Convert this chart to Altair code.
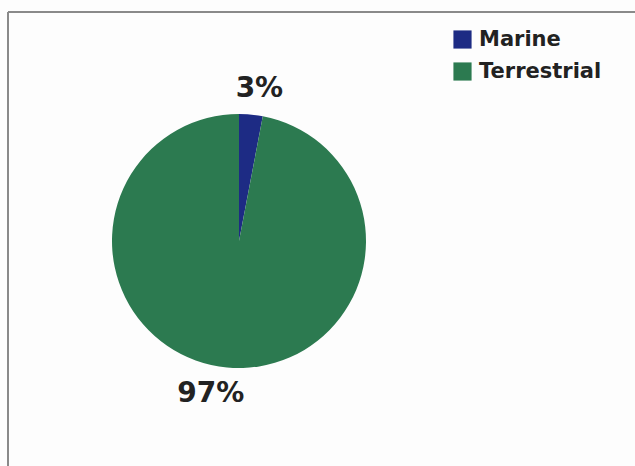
import altair as alt
import pandas as pd

categories = ["Marine", "Terrestrial"]
values = [3, 97]
labels = ["3%", "97%"]
colors = ["#1d2b84", "#2c7a50"]

df = pd.DataFrame({"category": categories, "value": values, "label": labels,
                   "order": [0, 1]})

W, H = 635, 466
CX, CY, R = 239, 241, 127

base = alt.Chart(df)

pie = base.mark_arc(outerRadius=R, stroke=None).encode(
    x=alt.value(CX), y=alt.value(CY),
    theta=alt.Theta("value:Q", stack=True),
    order=alt.Order("order:Q"),
    color=alt.Color("category:N",
                    scale=alt.Scale(domain=categories, range=colors),
                    legend=alt.Legend(title=None, orient="none",
                                      legendX=452, legendY=29,
                                      symbolType="square", symbolSize=330,
                                      symbolStrokeWidth=0,
                                      labelFont="DejaVu Sans", labelFontSize=21,
                                      labelFontWeight="bold", labelColor="#222222",
                                      labelOffset=6, rowPadding=10)),
)

lab = base.transform_stack(
    stack="value", groupby=[], as_=["v0", "v1"], sort=[alt.SortField("order")]
).transform_calculate(
    mid="(datum.v0 + datum.v1) / 2 / 100 * 2 * PI",
)

theta_mid = alt.Theta("mid:Q", scale=alt.Scale(domain=[0, 6.283185307],
                                               range=[0, 6.283185307]))

lab_m = lab.transform_filter(alt.datum.category == "Marine").mark_text(
    radius=153, font="DejaVu Sans", fontSize=28, fontWeight="bold",
    color="#222222", dx=6, dy=0,
).encode(x=alt.value(CX), y=alt.value(CY), theta=theta_mid, text="label:N")

lab_t = lab.transform_filter(alt.datum.category == "Terrestrial").mark_text(
    radius=151, font="DejaVu Sans", fontSize=28, fontWeight="bold",
    color="#222222", dx=-14, dy=3,
).encode(x=alt.value(CX), y=alt.value(CY), theta=theta_mid, text="label:N")

border_left = alt.Chart(df).mark_rule(color="#8a8a8a", strokeWidth=2).encode(
    x=alt.value(8), y=alt.value(12), y2=alt.value(H + 5))
border_top = alt.Chart(df).mark_rule(color="#8a8a8a", strokeWidth=2).encode(
    x=alt.value(8), x2=alt.value(W + 5), y=alt.value(12))

chart = alt.layer(pie, lab_m, lab_t, border_left, border_top).properties(
    width=W, height=H, padding=0, autosize=alt.AutoSizeParams(type="none"),
    background="#fdfdfd",
).resolve_scale(theta="independent").configure_view(stroke=None)

chart.save("out.html", embed_options={"renderer": "svg", "actions": False})
